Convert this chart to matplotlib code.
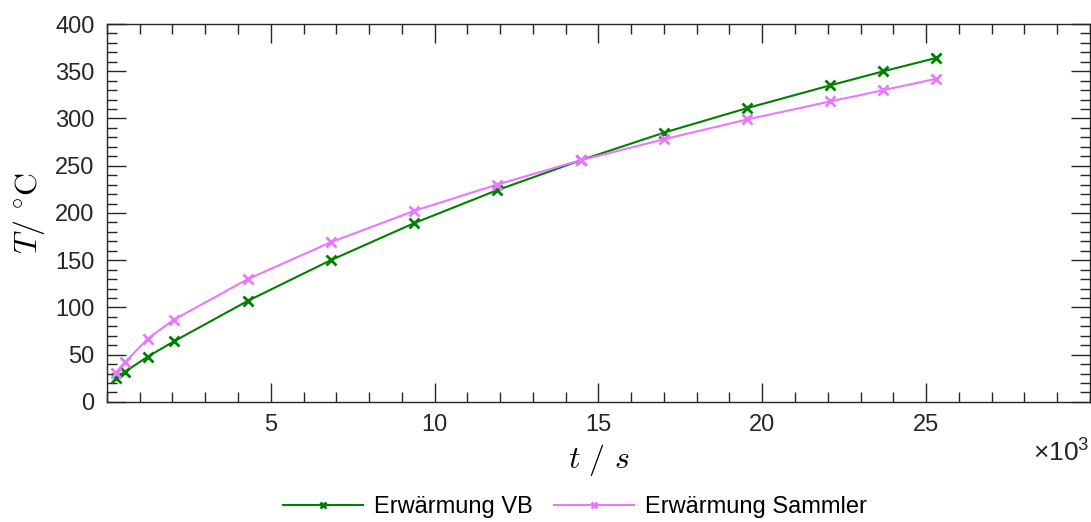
import numpy as np
import matplotlib.pyplot as plt
from matplotlib.ticker import MultipleLocator, FuncFormatter

# Messzeitpunkte in s
t_vb = [270, 550, 1250, 2040, 4300, 6830, 9360, 11900, 14480, 17000, 19540, 22070, 23700, 25300]
T_vb = [25, 32, 48, 64, 107, 150, 189, 224, 256, 285, 311, 335, 350, 364]

t_sammler = [270, 550, 1250, 2040, 4300, 6830, 9360, 11900, 14480, 17000, 19540, 22070, 23700, 25300]
T_sammler = [31, 42, 67, 87, 130, 169, 202, 230, 256, 278, 299, 318, 330, 342]

plt.rcParams['font.family'] = ['Liberation Sans', 'DejaVu Sans']
plt.rcParams['mathtext.fontset'] = 'cm'

fig = plt.figure(figsize=(10.91, 5.22), dpi=100)
ax = fig.add_axes([0.098, 0.230, 0.901, 0.724])

ax.plot(t_vb, T_vb, color='#008000', lw=1.5, marker='x', ms=7, mew=2,
        label='Erwärmung VB')
ax.plot(t_sammler, T_sammler, color='#e878ff', lw=1.5, marker='x', ms=7, mew=2,
        label='Erwärmung Sammler')

ax.set_xlim(0, 30000)
ax.set_ylim(0, 400)
ax.set_xticks([5000, 10000, 15000, 20000, 25000])
ax.xaxis.set_minor_locator(MultipleLocator(1000))
ax.set_yticks(np.arange(0, 401, 50))
ax.yaxis.set_minor_locator(MultipleLocator(10))
ax.xaxis.set_major_formatter(FuncFormatter(lambda v, p: f'{v / 1000:g}'))

ax.tick_params(which='both', direction='in', top=True, right=True,
               labelsize=17, colors='#262626', width=1.0, pad=9)
ax.tick_params(which='major', length=13.5)
ax.tick_params(which='minor', length=7.5)
for s in ax.spines.values():
    s.set_color('#262626')
    s.set_linewidth(1.0)

ax.set_xlabel(r'$t\ /\ s$', fontsize=23, labelpad=4)
ax.set_ylabel(r'$T/\ ^{\circ}\mathrm{C}$', fontsize=23, labelpad=6)

# Skalierungsfaktor der x-Achse
fig.text(0.999, 0.132, r'$\mathregular{\times10^{3}}$', ha='right', va='center',
         fontsize=19, color='#262626', family='Liberation Sans')

fig.legend(loc='center', bbox_to_anchor=(0.527, 0.029), ncol=2, frameon=False,
           fontsize=17, handlelength=3.4, columnspacing=0.9, handletextpad=0.45,
           markerscale=0.65)

fig.savefig('out.png', dpi=100)
